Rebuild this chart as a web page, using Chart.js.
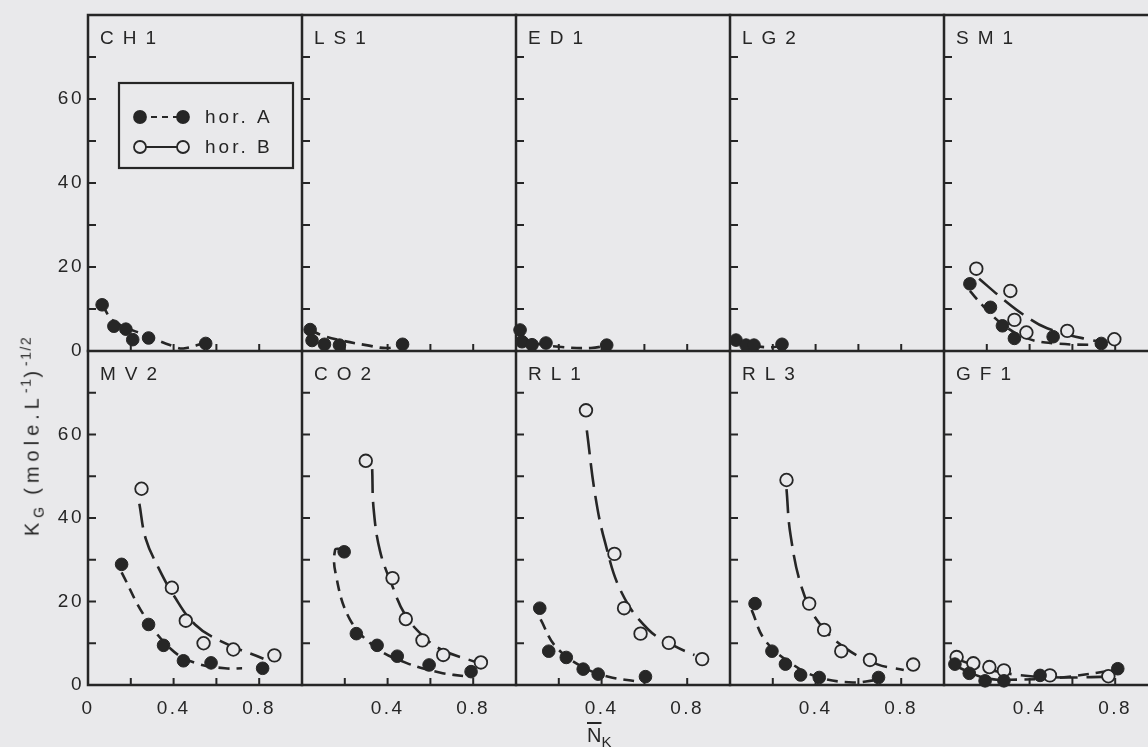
<!DOCTYPE html>
<html><head><meta charset="utf-8">
<script src="https://cdn.jsdelivr.net/npm/chart.js@4.4.1/dist/chart.umd.min.js"></script>
<style>
html,body{margin:0;padding:0;width:1148px;height:747px;overflow:hidden;background:#e9e9eb;position:relative;}
canvas{position:absolute;}
.txt{position:absolute;color:#262626;font-family:"Liberation Sans",Arial,sans-serif;font-size:19px;white-space:nowrap;z-index:5;}
#ytitle{left:32px;top:436px;transform:translate(-50%,-50%) rotate(-90deg);letter-spacing:5px;font-size:20px;}
#ytitle sub,#ytitle sup{font-size:14px;letter-spacing:1.5px;}
#xtitle{left:587px;top:725px;line-height:20px;font-size:20px;}
#xtitle sub{font-size:15px;}
</style></head><body>
<div class="txt" id="ytitle">K<sub>G</sub> (mole.L<sup>-1</sup>)<sup>-1/2</sup></div>
<div class="txt" id="xtitle"><span style="text-decoration:overline">N</span><sub>K</sub></div>
<script>
// ---------- data ----------
const panelNames = ['CH1','LS1','ED1','LG2','SM1','MV2','CO2','RL1','RL3','GF1'];
const legendLabels = ['hor. A','hor. B'];
const yTickValues = [10,20,30,40,50,60,70];
const yLabelValues = [0,20,40,60];
const xTickValues = [0.2,0.4,0.6,0.8];
const xLabelValues = [0.4,0.8];

const CH1_A = [[0.066,11.0],[0.121,5.9],[0.177,5.2],[0.209,2.7],[0.283,3.1],[0.55,1.8]];
const CH1_A_fit = [[0.066,11.0],[0.121,7.1],[0.277,3.6],[0.40,1.1],[0.446,0.6],[0.55,2.0]];
const LS1_A = [[0.038,5.1],[0.047,2.5],[0.105,1.6],[0.175,1.4],[0.47,1.6]];
const LS1_A_fit = [[0.038,5.0],[0.10,3.6],[0.175,2.6],[0.30,1.4],[0.40,0.7],[0.47,1.6]];
const ED1_A = [[0.019,5.0],[0.028,2.2],[0.075,1.5],[0.14,1.9],[0.424,1.4]];
const ED1_A_fit = [[0.019,4.0],[0.08,2.0],[0.20,1.0],[0.35,0.7],[0.424,1.3]];
const LG2_A = [[0.028,2.6],[0.075,1.4],[0.112,1.4],[0.243,1.6]];
const LG2_A_fit = [[0.028,2.4],[0.10,1.3],[0.20,0.9],[0.243,1.5]];
const SM1_A = [[0.121,16.0],[0.217,10.4],[0.273,6.0],[0.329,3.0],[0.51,3.4],[0.735,1.8]];
const SM1_B = [[0.151,19.6],[0.31,14.3],[0.329,7.4],[0.385,4.4],[0.576,4.8],[0.796,2.8]];
const SM1_A_fit = [[0.121,14.3],[0.183,10.7],[0.277,6.2],[0.389,3.0],[0.52,1.8],[0.725,1.4]];
const SM1_B_fit = [[0.164,17.2],[0.277,12.3],[0.37,8.7],[0.482,5.4],[0.688,2.6],[0.763,2.2]];
const MV2_A = [[0.157,28.9],[0.283,14.5],[0.353,9.5],[0.446,5.8],[0.575,5.3],[0.816,4.0]];
const MV2_B = [[0.25,47.0],[0.392,23.3],[0.457,15.4],[0.54,10.0],[0.679,8.5],[0.871,7.1]];
const MV2_A_fit = [[0.157,27.0],[0.263,16.6],[0.39,8.5],[0.50,5.3],[0.64,4.0],[0.72,4.0]];
const MV2_B_fit = [[0.24,43.4],[0.27,35.0],[0.33,28.0],[0.40,21.5],[0.50,14.5],[0.62,10.5],[0.82,6.3]];
const CO2_A = [[0.197,31.9],[0.254,12.3],[0.351,9.5],[0.445,6.9],[0.594,4.8],[0.79,3.2]];
const CO2_B = [[0.298,53.7],[0.423,25.6],[0.485,15.8],[0.563,10.7],[0.66,7.2],[0.836,5.4]];
const CO2_A_fit = [[0.178,32.6],[0.155,32.4],[0.156,27.0],[0.223,15.8],[0.347,8.9],[0.487,5.3],[0.643,3.0],[0.776,2.0]];
const CO2_B_fit = [[0.328,51.7],[0.335,42.0],[0.365,32.0],[0.42,24.0],[0.48,17.0],[0.56,12.0],[0.65,8.5],[0.824,5.3]];
const RL1_A = [[0.111,18.4],[0.153,8.1],[0.235,6.6],[0.314,3.8],[0.384,2.6],[0.605,2.0]];
const RL1_B = [[0.327,65.8],[0.46,31.4],[0.505,18.4],[0.582,12.3],[0.714,10.1],[0.87,6.2]];
const RL1_A_fit = [[0.115,15.7],[0.184,9.3],[0.308,4.4],[0.432,2.0],[0.571,0.8]];
const RL1_B_fit = [[0.331,61.0],[0.37,45.5],[0.416,34.2],[0.494,22.1],[0.618,13.3],[0.742,9.3],[0.834,7.2]];
const RL3_A = [[0.117,19.5],[0.196,8.1],[0.259,5.0],[0.33,2.4],[0.417,1.8],[0.694,1.8]];
const RL3_B = [[0.264,49.1],[0.37,19.5],[0.44,13.2],[0.52,8.1],[0.654,6.0],[0.856,4.9]];
const RL3_A_fit = [[0.101,18.0],[0.164,10.7],[0.291,5.0],[0.417,1.8],[0.575,0.6],[0.67,1.1]];
const RL3_B_fit = [[0.264,46.9],[0.283,35.9],[0.338,22.9],[0.417,14.8],[0.543,8.7],[0.686,5.0],[0.812,3.6]];
const GF1_A = [[0.051,5.0],[0.118,2.8],[0.192,1.0],[0.28,1.0],[0.449,2.3],[0.812,3.9]];
const GF1_B = [[0.059,6.7],[0.137,5.2],[0.212,4.3],[0.28,3.5],[0.495,2.3],[0.768,2.1]];
const GF1_A_fit = [[0.05,4.6],[0.20,1.6],[0.35,1.3],[0.55,1.8],[0.80,3.6]];
const GF1_B_fit = [[0.06,6.2],[0.20,3.8],[0.35,2.4],[0.55,1.8],[0.77,2.0]];

const seriesA = [CH1_A, LS1_A, ED1_A, LG2_A, SM1_A, MV2_A, CO2_A, RL1_A, RL3_A, GF1_A];
const seriesB = [[], [], [], [], SM1_B, MV2_B, CO2_B, RL1_B, RL3_B, GF1_B];
const fitA = [CH1_A_fit, LS1_A_fit, ED1_A_fit, LG2_A_fit, SM1_A_fit, MV2_A_fit, CO2_A_fit, RL1_A_fit, RL3_A_fit, GF1_A_fit];
const fitB = [[], [], [], [], SM1_B_fit, MV2_B_fit, CO2_B_fit, RL1_B_fit, RL3_B_fit, GF1_B_fit];

// ---------- layout & style ----------
const INK = '#262626';
const BG = '#e9e9eb';
const FONT = '"Liberation Sans", Arial, sans-serif';
const colLeft = [88, 302, 516, 730, 944];
const rowTop = [15, 351];
const rowH = [336, 334];
const panelW = 214;
const P = 24;
const dashA = [11, 7];
const dashB = [24, 9];

function pts(arr){ return arr.map(p => ({x: p[0], y: p[1]})); }
function near(a, b){ return Math.abs(a - b) < 1e-6; }

const framePlugin = {
  id: 'frame',
  beforeDraw(chart){ chart.ctx.letterSpacing = '2.5px'; },
  beforeDatasetsDraw(chart, args, o){
    const ctx = chart.ctx, a = chart.chartArea, xs = chart.scales.x, ys = chart.scales.y;
    ctx.save();
    ctx.strokeStyle = INK; ctx.lineWidth = 2.5; ctx.lineCap = 'square';
    ctx.beginPath();
    ctx.moveTo(a.left, a.top); ctx.lineTo(a.left, a.bottom); ctx.lineTo(a.right, a.bottom);
    if (o.row === 0) { ctx.moveTo(a.left, a.top); ctx.lineTo(a.right, a.top); }
    ctx.stroke();
    ctx.lineWidth = 2; ctx.lineCap = 'butt';
    ctx.beginPath();
    yTickValues.forEach(v => { const py = ys.getPixelForValue(v); ctx.moveTo(a.left, py); ctx.lineTo(a.left + 8, py); });
    xTickValues.forEach(v => { const px = xs.getPixelForValue(v); ctx.moveTo(px, a.bottom); ctx.lineTo(px, a.bottom - 7); });
    ctx.stroke();
    ctx.fillStyle = INK; ctx.font = '19px ' + FONT; ctx.letterSpacing = '9px';
    ctx.textAlign = 'left'; ctx.textBaseline = 'alphabetic';
    ctx.fillText(o.name, a.left + 12, a.top + 29);
    ctx.restore();
  },
  afterDatasetsDraw(chart, args, o){
    if (!o.legend) return;
    const ctx = chart.ctx, a = chart.chartArea;
    const L = a.left, T = a.top;
    ctx.save();
    ctx.strokeStyle = INK; ctx.lineWidth = 2.2;
    ctx.strokeRect(L + 31, T + 68, 174, 85);
    const rowsY = [T + 102, T + 132];
    legendLabels.forEach((lab, i) => {
      const y = rowsY[i];
      ctx.beginPath();
      ctx.lineWidth = 2.2;
      ctx.setLineDash(i === 0 ? [6, 5] : []);
      ctx.moveTo(L + 52, y); ctx.lineTo(L + 95, y); ctx.stroke();
      ctx.setLineDash([]);
      [L + 52, L + 95].forEach(cx => {
        ctx.beginPath(); ctx.arc(cx, y, 6, 0, Math.PI * 2);
        ctx.fillStyle = i === 0 ? INK : BG; ctx.fill();
        ctx.lineWidth = 1.8; ctx.strokeStyle = INK; ctx.stroke();
      });
      ctx.fillStyle = INK; ctx.font = '19px ' + FONT; ctx.letterSpacing = '3px';
      ctx.textAlign = 'left'; ctx.textBaseline = 'middle';
      ctx.fillText(lab, L + 117, y + 1);
    });
    ctx.restore();
  }
};

panelNames.forEach((name, i) => {
  const row = i < 5 ? 0 : 1, col = i % 5;
  const L = colLeft[col], T = rowTop[row], H = rowH[row];
  const yW = col === 0 ? 60 : 0;
  const xH = row === 1 ? 45 : 0;
  const cv = document.createElement('canvas');
  cv.width = P + yW + panelW + P;
  cv.height = P + H + xH + P;
  cv.style.left = (L - yW - P) + 'px';
  cv.style.top = (T - P) + 'px';
  document.body.appendChild(cv);

  const datasets = [
    {data: pts(seriesA[i]), showLine: false, pointRadius: 6.3, pointBackgroundColor: INK, pointBorderColor: INK, pointBorderWidth: 1, order: 0, clip: false},
    {data: pts(seriesB[i]), showLine: false, pointRadius: 6.3, pointBackgroundColor: BG, pointBorderColor: INK, pointBorderWidth: 1.8, order: 0, clip: false},
    {data: pts(fitA[i]), showLine: true, pointRadius: 0, borderColor: INK, borderWidth: 2.6, borderDash: dashA, tension: 0.4, fill: false, order: 1, clip: false},
    {data: pts(fitB[i]), showLine: true, pointRadius: 0, borderColor: INK, borderWidth: 2.6, borderDash: dashB, tension: 0.4, fill: false, order: 1, clip: false}
  ];

  new Chart(cv, {
    type: 'scatter',
    data: {datasets},
    plugins: [framePlugin],
    options: {
      responsive: false, animation: false, events: [], devicePixelRatio: 1,
      layout: {padding: {left: P, right: P, top: P, bottom: P}, autoPadding: false},
      plugins: {
        legend: {display: false}, tooltip: {enabled: false}, title: {display: false},
        frame: {row, col, name, legend: i === 0}
      },
      scales: {
        x: {
          type: 'linear', min: 0, max: 1,
          grid: {display: false, drawTicks: false}, border: {display: false},
          ticks: {
            display: row === 1, stepSize: 0.2, autoSkip: false, maxRotation: 0, padding: 12,
            color: INK, font: {family: FONT, size: 19},
            callback: v => (xLabelValues.some(t => near(t, v)) ? String(Math.round(v * 10) / 10) : (near(v, 0) && col === 0 ? '0' : ''))
          },
          afterFit: s => { s.height = xH; }
        },
        y: {
          type: 'linear', min: 0, max: 80,
          grid: {display: false, drawTicks: false}, border: {display: false},
          ticks: {
            display: col === 0, stepSize: 10, autoSkip: false, padding: 4,
            color: INK, font: {family: FONT, size: 19},
            callback: v => (yLabelValues.includes(v) ? String(v) : '')
          },
          afterFit: s => { s.width = yW; }
        }
      }
    }
  });
});
</script>
</body></html>
